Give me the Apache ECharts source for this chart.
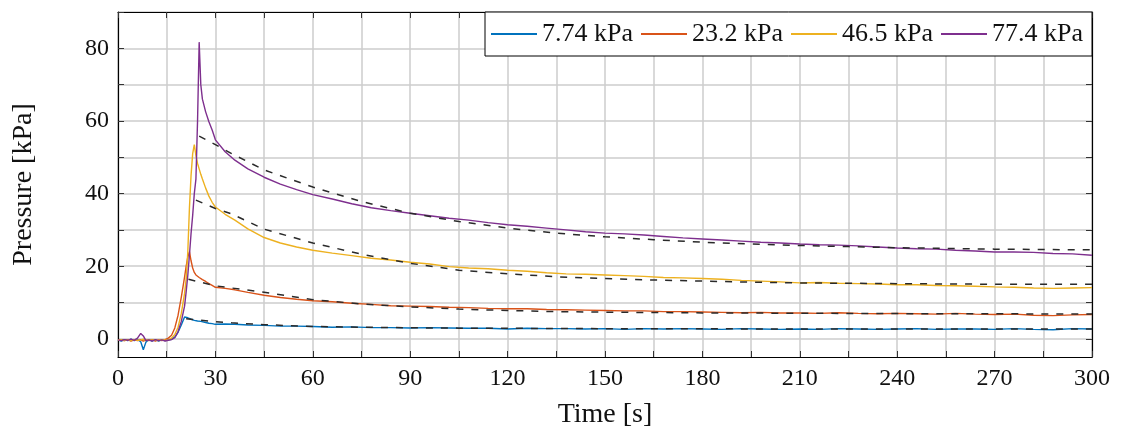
<!DOCTYPE html>
<html>
<head>
<meta charset="utf-8">
<script src="https://cdn.jsdelivr.net/npm/echarts@6/dist/echarts.min.js"></script>
<style>html,body{margin:0;padding:0;background:#fff;}#c{width:1122px;height:434px;}</style>
</head>
<body>
<div id="c"></div>
<script>
// ---- data ----
const seriesNames = ['7.74 kPa', '23.2 kPa', '46.5 kPa', '77.4 kPa'];
const seriesColors = ['#0072BD', '#D95319', '#EDB120', '#7E2F8E'];

const time = [0,1,2,3,4,5,6,7,7.8,8.6,9.5,10.5,11.5,12.5,13.5,14.5,15.5,16.5,17.5,18.5,19.5,
  20.5,21,21.5,22,22.5,23,23.5,24,24.5,25,25.5,26,27,28,29,30,33,36,40,45,50,55,60,
  66,72,78,84,90,96,102,108,114,120,126,132,138,144,150,156,162,168,174,180,186,192,198,
  204,210,216,222,228,234,240,246,252,258,264,270,276,282,288,294,300];

const p774 = [-0.3,-0.6,-0.2,-0.5,-0.1,-0.5,-0.2,-0.8,-3.0,-0.9,-0.2,-0.6,-0.2,-0.6,-0.3,-0.5,-0.3,-0.1,0.5,1.8,3.8,
  6.0,6.1,5.8,5.6,5.4,5.2,5.1,5.0,4.9,4.9,4.8,4.7,4.5,4.3,4.2,4.0,4.1,4.0,3.8,3.7,3.5,3.5,3.4,
  3.2,3.3,3.1,3.1,3.0,3.1,3.0,2.9,2.9,2.7,2.9,2.8,2.8,2.7,2.8,2.6,2.8,2.7,2.8,2.7,2.6,2.8,2.7,
  2.6,2.7,2.6,2.8,2.7,2.6,2.7,2.8,2.6,2.7,2.7,2.6,2.8,2.6,2.5,2.8,2.7];

const p232 = [-0.2,-0.4,-0.5,-0.2,-0.6,-0.3,-0.5,-0.2,-0.6,-0.3,-0.5,-0.2,-0.6,-0.3,-0.5,-0.2,0.2,1.0,3.0,6.5,11.5,
  17,20,22.5,24,21.5,19.5,18.3,17.6,17.2,16.9,16.6,16.3,15.8,15.2,14.7,14.2,13.9,13.5,12.8,12.0,11.4,10.9,10.5,
  10.2,9.8,9.5,9.1,9.0,8.9,8.7,8.6,8.4,8.3,8.3,8.1,8.0,7.9,7.8,7.7,7.7,7.5,7.5,7.4,7.3,7.2,7.3,
  7.1,7.1,7.0,7.2,7.0,6.9,7.0,6.9,6.8,7.0,6.8,6.7,6.8,6.5,6.4,6.6,6.7];

const p465 = [-0.4,-0.2,-0.5,-0.3,-0.5,-0.2,-0.4,-0.3,-0.1,-0.5,-0.2,-0.4,-0.3,-0.5,-0.2,-0.4,-0.3,0.2,1.2,3.2,7.0,
  12.5,16.5,24,36,45,51,53.5,50.5,48.3,46.8,45.3,44.0,41.5,39.3,37.6,36.3,34.3,32.7,30.3,27.9,26.4,25.3,24.4,
  23.6,22.9,22.2,21.7,21.1,20.6,19.9,19.5,19.3,18.9,18.6,18.2,17.9,17.8,17.6,17.4,17.2,16.9,16.8,16.6,16.4,16.1,15.9,
  15.7,15.4,15.5,15.3,15.2,15.1,14.9,14.9,14.7,14.6,14.5,14.3,14.2,14.0,13.9,14.0,14.1];

const p774b = [-0.3,-0.5,-0.2,-0.4,-0.1,-0.4,0.2,1.5,0.8,-0.5,-0.3,-0.6,-0.2,-0.5,-0.3,-0.6,-0.4,-0.2,0.3,2.0,4.8,
  9,13,17.5,23,29,34,40,44,60,81.7,70,66,62.5,59.8,57.5,54.8,51.5,49.2,46.8,44.5,42.6,41.1,39.7,
  38.5,37.2,36.1,35.3,34.6,33.9,33.2,32.7,32.0,31.4,31.0,30.5,30.0,29.5,29.1,28.9,28.6,28.2,27.8,27.5,27.2,26.9,26.6,
  26.4,26.1,25.9,25.8,25.6,25.3,25.0,24.8,24.7,24.4,24.2,23.9,23.9,23.8,23.5,23.4,23.0];

const seriesValues = [p774, p232, p465, p774b];

// fitted curves (dashed)
const fitStartTime = [21, 21.7, 24, 25];
const fitStartValue = [5.5, 16.4, 38.2, 55.8];
const fitTime = [30,35,45,60,75,90,105,120,135,150,165,180,195,210,225,240,255,270,285,300];
const fit774 = [4.7,4.4,3.9,3.4,3.2,3.05,2.95,2.9,2.85,2.8,2.78,2.76,2.74,2.72,2.71,2.7,2.7,2.7,2.7,2.7];
const fit232 = [14.6,14.0,12.8,10.8,9.6,8.8,8.2,7.8,7.5,7.35,7.25,7.15,7.1,7.05,7.0,6.95,6.9,6.9,6.85,6.85];
const fit465 = [35.9,34.4,30.2,26.4,23.3,20.8,18.9,17.9,17.1,16.6,16.2,15.9,15.6,15.4,15.3,15.2,15.1,15.05,15.0,15.0];
const fit774b = [53.5,51.0,46.5,41.8,37.8,34.6,32.3,30.5,29.1,28.1,27.3,26.6,26.1,25.7,25.4,25.1,24.9,24.7,24.6,24.5];
const fitValues = [fit774, fit232, fit465, fit774b];

const xLabels = [0,30,60,90,120,150,180,210,240,270,300];
const yTicks = [0,10,20,30,40,50,60,70,80,90];
const yLabels = [0,20,40,60,80];

// ---- chart ----
const FONT = 'Liberation Serif';
const chart = echarts.init(document.getElementById('c'), null, {renderer: 'canvas'});

const series = [];
seriesNames.forEach((n, i) => {
  series.push({
    name: n, type: 'line', symbol: 'none', z: 2,
    data: time.map((t, j) => [t, seriesValues[i][j]]),
    lineStyle: {color: seriesColors[i], width: 1.4},
    itemStyle: {color: seriesColors[i]}
  });
});
fitValues.forEach((fv, i) => {
  series.push({
    name: 'fit' + i, type: 'line', symbol: 'none', z: 3,
    data: [[fitStartTime[i], fitStartValue[i]]].concat(fitTime.map((t, j) => [t, fv[j]])),
    lineStyle: {color: '#2a2a2a', width: 1.5, type: [7, 8]}
  });
});

const gridLine = {show: true, lineStyle: {color: '#cccccc', width: 1.5}};
const boxLine = {show: true, onZero: false, lineStyle: {color: '#000', width: 1.2}};

chart.setOption({
  animation: false,
  backgroundColor: '#fff',
  textStyle: {fontFamily: FONT},
  grid: {left: 118, right: 30, top: 12, bottom: 74, containLabel: false},
  legend: {
    data: seriesNames.map((n, i) => ({name: n, icon: 'rect', itemStyle: {color: seriesColors[i]}})),
    right: 30, top: 12,
    orient: 'horizontal',
    itemWidth: 46, itemHeight: 2, itemGap: 8,
    backgroundColor: '#fff', borderColor: '#000', borderWidth: 1, borderRadius: 0,
    padding: [9, 9, 9, 6],
    textStyle: {fontFamily: FONT, fontSize: 26, color: '#111', padding: [0, 0, 0, 0]}
  },
  xAxis: [{
    type: 'value', min: 0, max: 300, interval: 15,
    name: 'Time [s]', nameLocation: 'middle', nameGap: 44,
    nameTextStyle: {fontFamily: FONT, fontSize: 28, color: '#111'},
    axisLine: boxLine,
    axisTick: {show: true, inside: true, length: 6, lineStyle: {color: '#333'}},
    axisLabel: {fontFamily: FONT, fontSize: 24, color: '#111', margin: 10,
      formatter: v => xLabels.indexOf(v) >= 0 ? String(v) : ''},
    splitLine: gridLine
  }, {
    type: 'value', min: 0, max: 300, interval: 15, position: 'top',
    axisLine: boxLine,
    axisTick: {show: true, inside: true, length: 6, lineStyle: {color: '#333'}},
    axisLabel: {show: false}, splitLine: {show: false}
  }],
  yAxis: [{
    type: 'value', min: -5, max: 90,
    name: 'Pressure [kPa]', nameLocation: 'middle', nameGap: 80,
    nameTextStyle: {fontFamily: FONT, fontSize: 28, color: '#111'},
    axisLine: boxLine,
    axisTick: {show: true, inside: true, length: 6, customValues: yTicks, lineStyle: {color: '#333'}},
    axisLabel: {fontFamily: FONT, fontSize: 24, color: '#111', margin: 9, customValues: yLabels},
    splitLine: gridLine
  }, {
    type: 'value', min: -5, max: 90, position: 'right',
    axisLine: boxLine,
    axisTick: {show: true, inside: true, length: 6, customValues: yTicks, lineStyle: {color: '#333'}},
    axisLabel: {show: false}, splitLine: {show: false}
  }],
  series: series
});
</script>
</body>
</html>
